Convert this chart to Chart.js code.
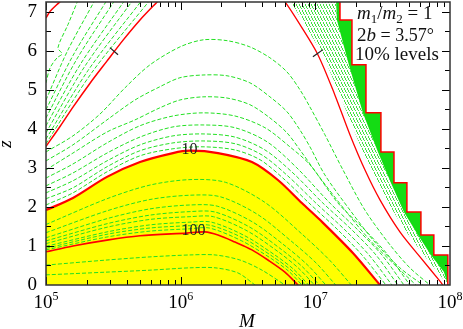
<!DOCTYPE html>
<html>
<head>
<meta charset="utf-8">
<script src="https://cdn.jsdelivr.net/npm/chart.js"></script>
<style>
  html, body { margin: 0; padding: 0; background: #fff; }
  #wrap { width: 463px; height: 329px; position: relative; }
</style>
</head>
<body>
<div id="wrap"><canvas id="chart"></canvas></div>
<script>
// every point is [log10(M), z]
const xTicks = [1e5, 1e6, 1e7, 1e8];
const xTickExp = ['5', '6', '7', '8'];
const yTicks = [0, 1, 2, 3, 4, 5, 6, 7];

// red contours (decades)
const red100 = [[5.0,0.85],[5.2,1.0],[5.453,1.15],[5.698,1.26],[6.047,1.33],[6.18,1.36],[6.277,1.28],[6.403,1.10],[6.529,0.90],[6.648,0.64],[6.774,0.33],[6.871,0]];
const red10 = [[5.0,1.92],[5.2,2.23],[5.453,2.77],[5.698,3.15],[5.943,3.38],[6.069,3.44],[6.277,3.38],[6.529,3.15],[6.722,2.69],[6.9,2.10],[7.034,1.67],[7.279,0.82],[7.48,0]];
const red1Left = [[5.0,3.55],[5.104,4.06],[5.203,4.57],[5.327,5.17],[5.451,5.73],[5.574,6.28],[5.698,6.79],[5.822,7.24],[5.84,7.3]];
const red1Right = [[6.745,7.35],[6.774,7.26],[6.886,6.67],[7.019,5.90],[7.145,4.87],[7.257,3.85],[7.368,2.95],[7.48,2.18],[7.628,1.36],[7.777,0.72],[7.925,0.10],[7.947,0]];
const red01Corner = [[5.0,6.84],[5.03,7.01],[5.104,7.26],[5.12,7.32]];

// green levels between 100 and 300
const lvl200 = [[5.0,0.51],[5.453,0.64],[5.772,0.72],[6.069,0.77],[6.255,0.77],[6.44,0.64],[6.604,0.38],[6.774,0]];
const lvl300 = [[5.0,0.26],[5.453,0.33],[5.772,0.38],[6.069,0.44],[6.255,0.44],[6.425,0.31],[6.552,0]];

// green levels between 10 and 100
const lvl20 = [[5.0,1.55],[5.453,2.21],[5.772,2.56],[6.069,2.70],[6.333,2.63],[6.624,2.12],[6.899,1.31],[7.102,0.65],[7.267,0]];
const lvl30 = [[5.0,1.34],[5.453,1.90],[5.772,2.19],[6.069,2.30],[6.295,2.26],[6.570,1.81],[6.826,1.11],[7.007,0.56],[7.151,0]];
const lvl40 = [[5.0,1.21],[5.453,1.70],[5.772,1.95],[6.069,2.05],[6.271,2.02],[6.536,1.61],[6.780,0.99],[6.946,0.50],[7.078,0]];
const lvl50 = [[5.0,1.13],[5.453,1.57],[5.772,1.79],[6.069,1.88],[6.255,1.87],[6.514,1.48],[6.748,0.91],[6.906,0.46],[7.029,0]];
const lvl60 = [[5.0,1.06],[5.453,1.48],[5.772,1.68],[6.069,1.75],[6.243,1.75],[6.497,1.38],[6.725,0.85],[6.875,0.43],[6.993,0]];
const lvl70 = [[5.0,0.99],[5.453,1.36],[5.772,1.54],[6.069,1.61],[6.229,1.61],[6.477,1.26],[6.699,0.77],[6.840,0.40],[6.950,0]];
const lvl80 = [[5.0,0.94],[5.453,1.30],[5.772,1.46],[6.069,1.52],[6.220,1.53],[6.465,1.20],[6.683,0.73],[6.820,0.38],[6.926,0]];
const lvl90 = [[5.0,0.90],[5.453,1.23],[5.772,1.38],[6.069,1.44],[6.213,1.46],[6.454,1.13],[6.667,0.69],[6.800,0.36],[6.901,0]];

// green levels between 1 and 10
const lvl2 = [[5.0,3.41],[5.2,3.82],[5.401,4.38],[5.586,5.05],[5.772,5.64],[5.995,6.10],[6.166,6.28],[6.344,6.26],[6.514,6.10],[6.663,5.82],[6.789,5.46],[6.886,5.0],[6.96,4.56],[7.071,3.85],[7.205,2.95],[7.368,1.92],[7.554,1.03],[7.702,0.44],[7.851,0]];
const lvl3 = [[5.0,3.18],[5.2,3.59],[5.453,4.23],[5.661,4.74],[5.846,5.08],[5.995,5.31],[6.166,5.38],[6.344,5.36],[6.514,5.18],[6.663,4.82],[6.789,4.44],[6.886,3.97],[6.96,3.54],[7.071,2.82],[7.257,1.92],[7.442,1.10],[7.628,0.44],[7.799,0]];
const lvl4 = [[5.0,2.95],[5.2,3.38],[5.453,3.92],[5.661,4.23],[5.846,4.54],[5.995,4.74],[6.166,4.82],[6.344,4.79],[6.514,4.62],[6.663,4.28],[6.789,3.90],[6.886,3.46],[7.019,2.82],[7.22,1.92],[7.405,1.15],[7.591,0.51],[7.747,0]];
const lvl5 = [[5.0,2.74],[5.2,3.10],[5.453,3.64],[5.698,4.08],[5.943,4.33],[6.166,4.41],[6.403,4.33],[6.626,4.03],[6.811,3.54],[6.96,3.08],[7.168,2.10],[7.368,1.41],[7.539,0.77],[7.702,0]];
const lvl6 = [[5.0,2.54],[5.2,2.87],[5.453,3.38],[5.698,3.79],[5.943,4.05],[6.166,4.10],[6.403,4.03],[6.641,3.67],[6.863,3.0],[7.108,2.10],[7.316,1.41],[7.494,0.77],[7.658,0]];
const lvl7 = [[5.0,2.36],[5.2,2.67],[5.453,3.18],[5.698,3.59],[5.943,3.82],[6.166,3.87],[6.403,3.79],[6.626,3.46],[6.834,2.87],[7.056,2.10],[7.272,1.41],[7.45,0.77],[7.613,0]];
const lvl8 = [[5.0,2.21],[5.2,2.49],[5.453,3.03],[5.698,3.44],[5.943,3.64],[6.166,3.69],[6.403,3.62],[6.604,3.33],[6.797,2.79],[7.004,2.10],[7.22,1.41],[7.398,0.77],[7.569,0]];
const lvl9 = [[5.0,2.05],[5.2,2.36],[5.453,2.90],[5.698,3.31],[5.943,3.49],[6.166,3.54],[6.403,3.46],[6.589,3.21],[6.759,2.74],[6.953,2.10],[7.168,1.41],[7.346,0.77],[7.524,0]];

// green levels between 0.1 and 1 (upper left)
const lvl02 = [[5.238,7.3],[5.163,6.67],[5.089,6.08],[5.119,5.92],[5.082,5.82],[5.030,5.56],[5.0,5.18]];
const lvl03 = [[5.0,4.74],[5.160,6.0],[5.364,7.3]];
const lvl04 = [[5.0,4.49],[5.199,5.87],[5.453,7.3]];
const lvl05 = [[5.0,4.28],[5.226,5.77],[5.512,7.3]];
const lvl06 = [[5.0,4.08],[5.258,5.67],[5.586,7.3]];
const lvl07 = [[5.0,3.90],[5.284,5.58],[5.646,7.3]];
const lvl08 = [[5.0,3.74],[5.313,5.50],[5.713,7.3]];
const lvl09 = [[5.0,3.62],[5.340,5.44],[5.772,7.3]];

// high-mass cut-off band on the right
const dottedLeft = [[6.80,7.35],[6.923,6.67],[7.056,5.90],[7.183,4.87],[7.294,3.90],[7.405,3.0],[7.517,2.23],[7.665,1.41],[7.806,0.77],[7.955,0.13],[7.99,0]];
const solidLeft = [[7.153,7.38],[7.160,6.79],[7.249,5.64],[7.353,4.41],[7.465,3.41],[7.561,2.62],[7.658,1.87],[7.762,1.28],[7.858,0.77],[7.955,0.33],[7.984,0]];
const stairs = [[7.183,7.38],[7.183,6.79],[7.272,6.79],[7.272,5.64],[7.376,5.64],[7.376,4.41],[7.487,4.41],[7.487,3.41],[7.584,3.41],[7.584,2.62],[7.680,2.62],[7.680,1.87],[7.784,1.87],[7.784,1.28],[7.880,1.28],[7.880,0.77],[7.984,0.77],[7.984,0]];

// little cross marks on the level-1 curves
const markLeft = [[5.475,6.08],[5.535,5.90]];
const markRight = [[6.982,5.85],[7.056,6.03]];

const label10 = [6.065, 3.46];
const label100 = [6.095, 1.38];

const GREEN = '#22e022';
const RED = '#ff0000';
const SERIF = '"Liberation Serif", "Times New Roman", serif';

function pts(arr) {
  return arr.map(p => ({ x: Math.pow(10, p[0]), y: p[1] }));
}

function line(data, color, width, dash) {
  return {
    data: pts(data), borderColor: color, borderWidth: width, borderDash: dash || [],
    pointRadius: 0, tension: 0.3, fill: false
  };
}

// dotted texture running steeply down-right, like the thin dotted contours
function makePattern() {
  const c = document.createElement('canvas');
  c.width = 3; c.height = 6;
  const g = c.getContext('2d');
  g.fillStyle = '#45e245';
  [[0, 0], [0, 1], [1, 2], [2, 4], [2, 5]].forEach(p => g.fillRect(p[0], p[1], 1, 1));
  return g.createPattern(c, 'repeat');
}

const greens = [lvl2, lvl3, lvl4, lvl5, lvl6, lvl7, lvl8, lvl9,
  lvl20, lvl30, lvl40, lvl50, lvl60, lvl70, lvl80, lvl90, lvl200, lvl300,
  lvl02, lvl03, lvl04, lvl05, lvl06, lvl07, lvl08, lvl09];

const datasets = [
  line(markLeft, '#222', 1.2),
  line(markRight, '#222', 1.2),
  Object.assign(line(red10, RED, 2.2), { fill: 'origin', backgroundColor: '#ffff00' }),
  line(red100, RED, 1.6),
  line(red1Left, RED, 1.5),
  line(red01Corner, RED, 1.5),
  line(red1Right, RED, 1.3),
  Object.assign(line(stairs, RED, 1.5), { tension: 0 })
];
greens.forEach(g => datasets.push(line(g, GREEN, 1, [4, 2])));
datasets.push({
  data: pts(solidLeft.concat(stairs.slice().reverse())),
  borderWidth: 0, pointRadius: 0, tension: 0,
  fill: 'shape', backgroundColor: '#14dc14'
});
datasets.push({
  data: pts(dottedLeft.concat(solidLeft.slice().reverse())),
  borderWidth: 0, pointRadius: 0, tension: 0,
  fill: 'shape', backgroundColor: makePattern()
});

function runs(ctx, x, y, parts) {
  for (const [txt, font, dy] of parts) {
    ctx.font = font;
    ctx.fillText(txt, x, y + (dy || 0));
    x += ctx.measureText(txt).width;
  }
}

const decor = {
  id: 'decor',
  afterDraw(chart) {
    const { ctx, chartArea: a } = chart;
    const xs = chart.scales.x, ys = chart.scales.y;
    ctx.save();

    // contour labels
    ctx.fillStyle = '#222';
    ctx.font = '16px ' + SERIF;
    ctx.textAlign = 'center';
    ctx.textBaseline = 'middle';
    ctx.fillText('10', xs.getPixelForValue(Math.pow(10, label10[0])), ys.getPixelForValue(label10[1]));
    ctx.fillText('100', xs.getPixelForValue(Math.pow(10, label100[0])), ys.getPixelForValue(label100[1]));

    // key text, top right
    ctx.fillStyle = '#111';
    ctx.textAlign = 'left';
    ctx.textBaseline = 'alphabetic';
    const F = '19px ' + SERIF, I = 'italic 19px ' + SERIF, S = '13px ' + SERIF;
    runs(ctx, 357, 19, [['m', I], ['1', S, 4], ['/', F], ['m', I], ['2', S, 4], [' = 1', F]]);
    runs(ctx, 357, 41, [['2', F], ['b', I], [' = 3.57\u00b0', '18px ' + SERIF]]);
    runs(ctx, 355, 60, [['10% levels', F]]);

    // inward ticks on all four sides
    ctx.strokeStyle = '#000';
    ctx.lineWidth = 1;
    ctx.beginPath();
    for (let e = 5; e < 8; e++) {
      for (let k = 1; k < 10; k++) {
        const px = Math.round(xs.getPixelForValue(k * Math.pow(10, e))) + 0.5;
        const len = k === 1 ? 8 : 5;
        ctx.moveTo(px, a.bottom); ctx.lineTo(px, a.bottom - len);
        ctx.moveTo(px, a.top); ctx.lineTo(px, a.top + len);
      }
    }
    for (let v = 0.5; v <= 7; v += 0.5) {
      const py = Math.round(ys.getPixelForValue(v)) + 0.5;
      const len = v % 1 === 0 ? 8 : 5;
      ctx.moveTo(a.left, py); ctx.lineTo(a.left + len, py);
      ctx.moveTo(a.right, py); ctx.lineTo(a.right - len, py);
    }
    ctx.stroke();
    ctx.lineWidth = 1.5;
    ctx.strokeStyle = '#333';
    ctx.strokeRect(a.left, a.top, a.right - a.left, a.bottom - a.top);

    // x tick labels 10^n
    ctx.fillStyle = '#000';
    xTicks.forEach((v, i) => {
      const px = xs.getPixelForValue(v);
      ctx.font = '19px ' + SERIF;
      const wb = ctx.measureText('10').width;
      ctx.font = '12px ' + SERIF;
      const we = ctx.measureText(xTickExp[i]).width;
      const x0 = px - (wb + we) / 2;
      ctx.font = '19px ' + SERIF;
      ctx.fillText('10', x0, 308);
      ctx.font = '12px ' + SERIF;
      ctx.fillText(xTickExp[i], x0 + wb, 300);
    });

    // axis titles
    ctx.font = 'italic 19px ' + SERIF;
    ctx.textAlign = 'center';
    ctx.fillText('M', 247, 327);
    ctx.translate(11, 144);
    ctx.rotate(-Math.PI / 2);
    ctx.fillText('z', 0, 0);
    ctx.restore();
  }
};

new Chart(document.getElementById('chart').getContext('2d'), {
  type: 'line',
  data: { datasets: datasets },
  options: {
    responsive: true,
    maintainAspectRatio: false,
    animation: false,
    layout: { padding: { left: 0, right: 13, top: 2, bottom: 0 } },
    plugins: {
      legend: { display: false },
      tooltip: { enabled: false },
      filler: { drawTime: 'beforeDatasetsDraw' }
    },
    scales: {
      x: {
        type: 'logarithmic', min: 1e5, max: 1e8,
        afterFit(s) { s.height = 44; s.paddingLeft = 0; s.paddingRight = 0; },
        ticks: { display: false },
        grid: { display: false, drawTicks: false },
        border: { display: false }
      },
      y: {
        type: 'linear', min: 0, max: 7.25,
        afterBuildTicks(s) { s.ticks = yTicks.map(v => ({ value: v })); },
        afterFit(s) { s.width = 46; s.paddingTop = 0; s.paddingBottom = 0; },
        ticks: { font: { family: SERIF, size: 19 }, color: '#000', padding: 9 },
        grid: { display: false, drawTicks: false },
        border: { display: false }
      }
    }
  },
  plugins: [decor]
});
</script>
</body>
</html>
